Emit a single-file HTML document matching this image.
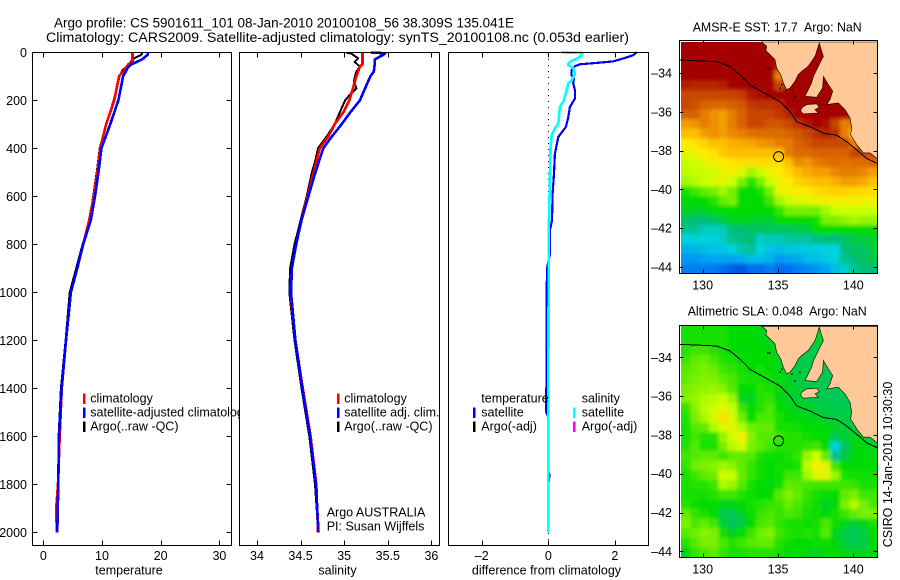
<!DOCTYPE html>
<html>
<head>
<meta charset="utf-8">
<title>Argo profile</title>
<style>
html,body{margin:0;padding:0;background:#fff;}
svg{display:block;}
text{font-family:"Liberation Sans",sans-serif;font-size:12.5px;fill:#000;white-space:pre;}
.title{font-size:14.2px;}
.maptitle{font-size:12.5px;}
.line{fill:none;stroke-linejoin:round;shape-rendering:crispEdges;}
.crisp{shape-rendering:crispEdges;}
</style>
</head>
<body>
<svg id="chart" xmlns="http://www.w3.org/2000/svg" width="900" height="580" viewBox="0 0 900 580">
  <defs>
    <filter id="soften" x="-5%" y="-5%" width="110%" height="110%"><feGaussianBlur stdDeviation="1.9"/></filter>
    <clipPath id="clip-m1"><rect x="681" y="42" width="196.5" height="231"/></clipPath>
    <clipPath id="clip-m2"><rect x="681" y="326" width="196.5" height="231"/></clipPath>
  </defs>
  <rect x="0" y="0" width="900" height="580" fill="#fff"/>
  <text class="title" x="54" y="27.5" textLength="460" lengthAdjust="spacingAndGlyphs">Argo profile: CS 5901611_101 08-Jan-2010 20100108_56 38.309S 135.041E</text>
  <text class="title" x="46" y="42" textLength="583" lengthAdjust="spacingAndGlyphs">Climatology: CARS2009. Satellite-adjusted climatology: synTS_20100108.nc (0.053d earlier)</text>
  <g id="p1"></g>
  <g id="p2"></g>
  <g id="p3"></g>
  <g id="m1"></g>
  <g id="m2"></g>
  <text class="maptitle" x="692.7" y="31.5" textLength="169" lengthAdjust="spacingAndGlyphs">AMSR-E SST: 17.7  Argo: NaN</text>
  <text class="maptitle" x="687.7" y="315.7" textLength="179" lengthAdjust="spacingAndGlyphs">Altimetric SLA: 0.048  Argo: NaN</text>
  <text transform="translate(892,547.3) rotate(-90)" x="0" y="0" textLength="165.6" lengthAdjust="spacingAndGlyphs">CSIRO 14-Jan-2010 10:30:30</text>
</svg>
<script>
// ---------- profile data ----------
var depthTicks = [0,200,400,600,800,1000,1200,1400,1600,1800,2000];
var tempTicks = [0,10,20,30];
var salTicks = [34,34.5,35,35.5,36];
var diffTicks = [-2,0,2];

var tempArgoDepth = [3,12,22,30,50,75,100,150,200,300,400,500,700,800,900,1000,1200,1400,1600,1800,1950];
var tempArgo = [16.9,16.6,15.7,15.2,14.6,13.5,13.0,12.5,12.0,10.7,9.6,9.1,7.9,6.7,5.6,4.5,3.8,3.0,2.6,2.5,2.3];
var tempClimDepth = [0,40,50,80,100,200,300,400,500,600,700,800,900,1000,1200,1400,1600,1800,1900,2000];
var tempClim = [15.2,15.2,14.5,13.6,12.9,12.1,10.7,9.7,9.2,8.6,7.8,6.8,5.8,4.7,3.87,3.15,2.8,2.5,2.2,2.3];
var tempSatDepth = [0,10,30,50,60,100,200,300,400,500,600,700,800,900,1000,1200,1400,1600,1800,2000];
var tempSat = [17.8,17.8,16.8,15.05,14.5,13.6,12.8,11.4,9.9,9.4,8.8,8.1,6.8,5.8,4.7,3.87,3.12,2.68,2.55,2.38];

var salArgoDepth = [2,5,15,25,40,60,80,120,150,175,200,250,300,350,400,450,500,600,700,800,900,1000,1200,1400,1600,1800,1960];
var salArgo = [35.03,35.08,35.12,35.16,35.12,35.18,35.14,35.11,35.14,35.07,35.01,34.95,34.89,34.80,34.70,34.67,34.63,34.57,34.5,34.43,34.38,34.37,34.43,34.51,34.6,34.665,34.695];
var salClimDepth = [0,50,60,100,150,200,250,300,350,400,500,600,700,800,900,1000,1200,1400,1600,1800,2000];
var salClim = [35.21,35.21,35.18,35.14,35.1,35.06,34.99,34.89,34.82,34.72,34.65,34.58,34.51,34.45,34.4,34.385,34.44,34.525,34.615,34.68,34.7];
var salSatDepth = [1,4,10,30,50,80,100,150,200,250,300,350,400,500,600,700,800,900,1000,1200,1400,1600,1800,2000];
var salSat = [35.31,35.47,35.45,35.35,35.35,35.34,35.3,35.24,35.18,35.07,34.97,34.86,34.76,34.67,34.59,34.51,34.45,34.4,34.39,34.44,34.52,34.61,34.675,34.705];

var diffTempDepth = [0,12,26,38,44,50,58,75,96,110,130,158,193,228,270,311,353,422,505,589,700,740,840,894,990,1500,1520,1750,1760,1800];
var diffTemp = [2.66,2.55,2.25,1.95,1.45,0.95,0.8,0.7,0.7,0.77,0.75,0.8,0.8,0.65,0.6,0.53,0.3,0.2,0.17,0.13,0.11,0.05,0.05,-0.03,-0.05,-0.06,0,0,0.04,0];
var diffSalDepth = [0,3,10,24,36,47,54,64,89,117,130,158,200,228,297,318,346,394,505,644,783,992,1500,2000];
var diffSal = [0.4,1.0,1.0,0.9,0.7,0.6,0.6,0.75,0.8,0.7,0.6,0.55,0.47,0.35,0.3,0.2,0.1,0.07,0.05,0.03,0.01,0.01,0,0];

// ---------- map data ----------
var mapLonTicks = [130,135,140];
var mapLatTicks = [-34,-36,-38,-40,-42,-44];
var argoLon = [135.04];
var argoLat = [-38.31];

// SST, degrees C, 0.62 deg lon x 0.5 deg lat
var sstGrid = [
[22,22,22,22,22,22,22,22,22,22,22,22,22,22,22,22,22,22,22,22,22],
[22,22,22,22,22,22,22,22,22,22,22,22,22,22,22,22,22,22,22,22,22],
[22,22,22,22,22,22,22,22,22,22,21.5,22,22,22,22,22,22,22,22,22,22],
[22,22,22,22,22,22,22,22,22,22,20,21.5,22,22,22,22,22,22,22,22,22],
[21.6,21.5,21.5,21.5,21.6,22,22,22,22,22,21,22,22,22,22,22,22,22,22,22,22],
[21,21,21,21,21,21,21.2,21.7,21.8,22,22,22,22,22,22,22,22,22,22,22,22],
[21,20.8,20.5,20.4,20.4,20.5,20.7,21.2,21.3,21.3,21.4,22,22,22,22,22,22,22,22,22,22],
[20.5,20.5,20,19.7,19.5,20,20.5,21,21,21,21.2,21.5,22,22,22,22,22,22,22,22,22],
[19.5,19.7,20,19.7,19.5,20,20.5,21,21,20.7,20.7,21,21.3,21.7,22,21.8,21,20,20,22,22],
[19,19,19.5,19.7,19.5,19.8,20,20.2,20.3,20.3,20.3,20.5,20.7,21,21.3,21.5,21.3,20,19,22,22],
[18,18.2,18.5,19,19,19.2,19.3,19.4,19.6,19.7,20,20,20.5,20.7,21,21,21,21,20,22,22],
[17.5,17.7,18,18.2,18.8,19,19,19,19,19,19,20,20.3,20.3,20.5,20.5,20.5,20.5,21,21,21],
[17,17.2,17.5,17.7,18,18.2,18.3,18.3,18.4,18.3,18.3,19,19.8,19.6,20,20.2,20.3,20.2,20.3,20.3,20.5],
[16.8,17,17,17.2,17.6,17.7,17.3,16.5,17,17.7,18,18.5,19,19.3,19.5,19.5,19.8,20,20,19.8,19.5],
[16.5,16.7,17,17.2,17.4,17,16,15.3,16,17,17.7,18,18.5,18.8,19,19,19.2,19.5,19.5,19.3,19],
[15.2,15.5,15.8,16,16.5,16,15,15,15.2,16,17.6,17.8,17.9,18,18.3,18.5,18.6,18.6,18.5,18.3,18.3],
[15,15,15,15.3,15.8,16,15,15,15,15.5,16.5,17,17.3,17.4,17.6,17.8,17.8,17.8,17.8,17.8,17.8],
[14.7,14.7,14.7,15,15,15,15,15,15,15,15.4,16,16,16,16,16.5,17,17,17,17,17],
[14.2,14,14,14.2,14.5,14.7,14.8,14.7,14.6,14.6,15,15,15,15,15.2,16,16,16.3,16.5,16.3,16.3],
[13.7,13.7,13.3,13.2,13.3,14,14,14.2,14.2,14.2,14.2,14.2,14.4,14.5,15,15,15,15,15,15,15],
[13,13,13,13,13.2,13.8,13.9,14,13.2,13.4,13.4,13.6,13.6,13.6,13.9,14,14,14.2,14.5,14.5,14.6],
[12.2,12.3,12.5,12.7,12.7,13,13.5,13.7,13,12.7,12.5,12.7,12.8,12.8,12.9,13,13,14,14.2,14.2,14.5],
[11.8,11.8,11.9,12,12,12,12.2,12.5,12.5,12.3,11.8,12,12.1,12.5,12.5,12.8,13,13.8,14,14.2,14.4],
[11.3,11.3,11.3,11.2,11,10.7,10.5,11,11,11.3,11,11,11.3,11.5,11.7,12,12.5,13.2,13.7,14,14]
];

// SLA, centimetres, same grid
var slaGrid = [
[2,2,2,2,2,0,0,0,-2,-2,-2,-3,-3,-3,-3,-3,-3,-3,-3,-3,-3],
[2,2,2,2,2,0,0,0,-1,-3,-3,-3,-3,-3,-3,-3,-3,-3,-3,-3,-3],
[3,5,5,3,2,0,-1,0,0,-2,-3,-5,-6,-6,-7,-7,-7,-7,-7,-7,-7],
[5,8,9,6,3,2,0,0,0,0,-3,-4,-6,-6,-7,-7,-7,-7,-7,-7,-7],
[7,9,10,9,5,4,2,0,2,0,-1,-3,-5,-6,-7,-7,-7,-7,-7,-7,-7],
[8,10,11,11,8,6,3,2,2,1,-1,-3,-5,-5,-6,-7,-7,-7,-7,-7,-7],
[10,12,13,14,12,7,0,0,3,2,0,-2,-4,-6,-6,-7,-7,-7,-7,-7,-7],
[11,14,17,18,20,14,-3,-3,3,4,-2,-3,-4,-5,-6,-6,-7,-7,-7,-7,-7],
[4,12,18,20,25,20,5,0,3,6,0,-2,-3,-3,-5,-6,-6,-6,-6,-6,-6],
[3,10,16,22,33,22,9,0,6,6,2,0,-1,-2,-3,-4,-5,-5,-5,-5,-5],
[2,7,8,17,22,25,17,9,8,8,2,2,1,0,0,-1,-3,-5,-5,-5,-5],
[2,5,3,3,14,22,28,12,7,7,5,3,3,1,0,0,-6,-4,-2,-3,-5],
[3,7,2,2,10,18,22,10,8,5,3,3,3,4,5,0,-20,-8,-2,-1,-3],
[5,7,8,8,5,8,8,7,2,1,1,2,4,14,20,8,-12,-5,-1,0,-1],
[4,9,10,12,15,12,8,4,1,0,1,1,2,18,28,24,5,0,0,0,0],
[2,5,8,9,21,20,8,4,1,0,1,5,5,15,24,24,14,2,1,1,1],
[2,3,3,5,17,14,7,2,0,-1,1,8,7,6,5,5,5,5,4,2,2],
[2,2,2,3,5,5,3,1,0,0,7,11,8,4,2,1,0,8,10,5,5],
[3,1,0,0,-2,-2,0,2,3,4,5,9,6,3,1,-3,-1,10,17,10,6],
[8,4,2,0,-6,-7,-3,1,4,6,4,6,5,2,1,-1,2,5,8,10,10],
[11,6,8,5,-4,-8,-5,0,6,7,4,2,2,1,2,6,1,-2,-4,-2,2],
[7,9,12,10,2,-3,0,5,9,11,5,3,2,3,2,7,-2,-6,-7,-5,0],
[3,7,10,10,6,3,5,7,8,8,3,1,0,0,1,1,-1,-5,-7,-6,-2],
[-2,4,6,8,4,2,2,3,3,3,2,0,0,-2,-3,-1,0,-2,-3,-3,-1]
];

var coastLon = [133.92,134.25,134.20,134.47,134.80,134.91,135.18,135.35,135.58,135.80,136.13,136.35,136.57,137.01,137.46,137.74,137.90,138.01,137.79,137.61,137.34,137.23,136.79,137.57,137.96,138.01,138.34,138.63,138.45,138.23,139.00,139.45,139.78,139.89,139.82,140.22,140.66,141.11,141.59,141.59];
var coastLat = [-32.40,-32.62,-32.85,-33.05,-33.31,-33.74,-34.08,-34.51,-34.86,-34.77,-34.43,-34.08,-33.91,-33.65,-33.14,-32.45,-32.88,-33.14,-33.48,-33.77,-34.19,-34.51,-35.20,-35.25,-34.77,-34.17,-34.60,-34.94,-35.37,-35.63,-35.54,-35.89,-36.32,-36.83,-37.18,-37.69,-38.12,-38.12,-38.42,-32.40];
var islandLon = [136.57,136.90,137.57,137.74,137.46,137.68,136.68,136.50];
var islandLat = [-35.80,-35.63,-35.59,-35.77,-35.89,-36.06,-36.11,-35.97];
var isletLon = [134.29,134.42,135.24,135.13,135.91,136.08,136.42];
var isletLat = [-33.74,-33.79,-34.60,-34.77,-34.86,-35.20,-34.77];
var isobathLon = [128.49,129.38,130.93,131.81,132.48,133.14,134.14,135.13,135.80,136.24,137.12,138.01,138.89,139.56,140.22,140.88,141.59];
var isobathLat = [-33.33,-33.36,-33.42,-33.67,-34.10,-34.62,-35.05,-35.48,-35.99,-36.51,-36.77,-37.11,-37.20,-37.54,-37.97,-38.40,-38.66];

// ---------- helpers ----------
var NS = 'http://www.w3.org/2000/svg';
function mk(tag, parent, attrs) {
  var el = document.createElementNS(NS, tag);
  for (var k in attrs) el.setAttribute(k, attrs[k]);
  parent.appendChild(el);
  return el;
}
function fmt(v) { return String(v).replace('-', '\u2013'); }
function depthY(d) { return 52.3 + 0.24 * d; }
function tempX(v) { return 43.3 + 5.87 * v; }
function salX(v) { return 257 + 87.2 * (v - 34); }
function diffX(v) { return 548.3 + 33.25 * v; }
function pts(xs, ys, fx, fy) {
  return xs.map(function (x, i) { return fx(x).toFixed(1) + ',' + fy(ys[i]).toFixed(1); }).join(' ');
}

function drawFrame(g, x0, x1, y0, y1) {
  var bg = mk('rect', g, {x: x0, y: y0, width: x1 - x0, height: y1 - y0, fill: '#fff', stroke: 'none'});
  
  
}
function drawBox(g, x0, x1, y0, y1) {
  var box = mk('rect', g, {x: x0, y: y0, width: x1 - x0, height: y1 - y0, fill: 'none', stroke: '#000', 'stroke-width': 1, 'class': 'crisp'});
  
  
}
function drawXTicks(g, ticks, fx, y0, y1, labelY) {
  ticks.forEach(function (t) {
    var x = Math.round(fx(t)) + 0.5;
    var top = mk('line', g, {x1: x, x2: x, y1: y0, y2: y0 + 5, stroke: '#000', 'class': 'crisp'});
    
    
    var bot = mk('line', g, {x1: x, x2: x, y1: y1, y2: y1 - 5, stroke: '#000', 'class': 'crisp'});
    
    
    var lab = mk('text', g, {x: fx(t), y: labelY, 'text-anchor': 'middle'});
    lab.textContent = fmt(t);
    
    
  });
}
function drawYTicks(g, ticks, fy, x0, x1, labelX) {
  ticks.forEach(function (t) {
    var y = Math.round(fy(t)) + 0.5;
    var l = mk('line', g, {x1: x0 , x2: x0 + 5, y1: y, y2: y, stroke: '#000', 'class': 'crisp'});
    
    
    var r = mk('line', g, {x1: x1 - 5, x2: x1, y1: y, y2: y, stroke: '#000', 'class': 'crisp'});
    
    
    var lab = mk('text', g, {x: labelX, y: fy(t) + 4.5, 'text-anchor': 'end'});
    lab.textContent = fmt(t);
    
    
  });
}
function drawSeries(g, vals, depths, fx, color, width) {
  var p = mk('polyline', g, {points: pts(vals, depths, fx, depthY), stroke: color, 'stroke-width': width, 'class': 'line'});
  
  
}
function drawLegend(g, swatchX, textX, items) {
  items.forEach(function (it) {
    if (it.color) {
      var s = mk('rect', g, {x: swatchX - 1, y: it.y - 9, width: 2.6, height: 10.5, fill: it.color, 'class': 'crisp'});
      
      
    }
    var t = mk('text', g, {x: textX, y: it.y});
    t.textContent = it.label;
    
    
  });
}
function plainText(g, x, y, s, anchor) {
  var t = mk('text', g, {x: x, y: y, 'text-anchor': anchor || 'start'});
  t.textContent = s;
  
  
}

// ---------- temperature panel ----------
var p1 = document.getElementById('p1');
drawFrame(p1, 32.5, 231.5, 52.5, 545.5);
drawSeries(p1, tempArgo, tempArgoDepth, tempX, '#000', 2);
drawSeries(p1, tempClim, tempClimDepth, tempX, '#f00', 2.6);
drawSeries(p1, tempSat, tempSatDepth, tempX, '#00f', 2.6);
drawLegend(p1, 84, 90.3, [
  {y: 402.3, color: '#f00', label: 'climatology'},
  {y: 416.7, color: '#00f', label: 'satellite-adjusted climatology'},
  {y: 430.7, color: '#000', label: 'Argo(..raw -QC)'}
]);
drawXTicks(p1, tempTicks, tempX, 52.5, 545.5, 560);
drawYTicks(p1, depthTicks, depthY, 32.5, 231.5, 27);
drawBox(p1, 32.5, 231.5, 52.5, 545.5);
plainText(p1, 129, 574.5, 'temperature', 'middle');

// ---------- salinity panel ----------
var p2 = document.getElementById('p2');
drawFrame(p2, 239.5, 439.5, 52.5, 545.5);
drawSeries(p2, salArgo, salArgoDepth, salX, '#000', 2);
drawSeries(p2, salClim, salClimDepth, salX, '#f00', 2.6);
drawSeries(p2, salSat, salSatDepth, salX, '#00f', 2.6);
drawLegend(p2, 338, 344.3, [
  {y: 402.3, color: '#f00', label: 'climatology'},
  {y: 416.7, color: '#00f', label: 'satellite adj. clim.'},
  {y: 430.7, color: '#000', label: 'Argo(..raw -QC)'}
]);
plainText(p2, 326.7, 516.7, 'Argo AUSTRALIA');
plainText(p2, 326.7, 530.7, 'PI: Susan Wijffels');
drawXTicks(p2, salTicks, salX, 52.5, 545.5, 560);
drawBox(p2, 239.5, 439.5, 52.5, 545.5);
plainText(p2, 337.5, 574.5, 'salinity', 'middle');

// ---------- difference panel ----------
var p3 = document.getElementById('p3');
drawFrame(p3, 448.5, 648.5, 52.5, 545.5);
var zero = mk('line', p3, {x1: diffX(0), x2: diffX(0), y1: 53, y2: 545, stroke: '#000', 'stroke-width': 1, 'stroke-dasharray': '1 5', 'class': 'crisp'});


drawSeries(p3, diffTemp, diffTempDepth, diffX, '#00f', 2.2);
drawSeries(p3, diffSal, diffSalDepth, diffX, '#0ff', 2.6);
drawLegend(p3, 474, 481.3, [
  {y: 402.3, label: 'temperature'},
  {y: 416.7, color: '#00f', label: 'satellite'},
  {y: 430.7, color: '#000', label: 'Argo(-adj)'}
]);
drawLegend(p3, 574, 581.7, [
  {y: 402.3, label: 'salinity'},
  {y: 416.7, color: '#0ff', label: 'satellite'},
  {y: 430.7, color: '#f0f', label: 'Argo(-adj)'}
]);
drawXTicks(p3, diffTicks, diffX, 52.5, 545.5, 560);
drawBox(p3, 448.5, 648.5, 52.5, 545.5);
plainText(p3, 546.5, 574.5, 'difference from climatology', 'middle');

// ---------- maps ----------
var palette = [[0,60,200],[0,110,240],[0,165,240],[0,210,220],[0,190,120],[0,220,0],[120,240,0],[200,255,0],[255,235,0],[255,190,0],[230,125,0],[200,70,0],[165,0,0]];
function colorAt(idx) {
  var i = Math.max(0, Math.min(11.999, idx));
  var a = Math.floor(i), f = i - a;
  var c = palette[a].map(function (v, k) { return Math.round(v + (palette[a + 1][k] - v) * f); });
  return 'rgb(' + c.join(',') + ')';
}
function sstColor(v) { return colorAt(v - 10); }
function slaColor(v) { return colorAt(5 + v / 10); }
function lonX(lon) { return 778 + (lon - 135) * 15.07; }

function drawCells(parent, grid, colorFn, imgTop, imgBottom) {
  var x0 = 681, x1 = 877.3;
  var cw = (x1 - x0) / grid[0].length, ch = (imgBottom - imgTop) / grid.length;
  grid.forEach(function (row, r) {
    row.forEach(function (v, c) {
      var cell = mk('rect', parent, {
        x: (x0 + c * cw).toFixed(2), y: (imgTop + r * ch).toFixed(2),
        width: (cw + 0.3).toFixed(2), height: (ch + 0.3).toFixed(2),
        fill: colorFn(v), 'class': 'crisp'
      });
      
      
    });
  });
}

function drawMap(g, clipId, grid, colorFn, yAt34, frameTop, frameBottom, imgTop, imgBottom, labelY) {
  function latY(lat) { return yAt34 - (lat + 34) * 19.4; }
  var bg = mk('rect', g, {x: 679.5, y: frameTop, width: 198, height: frameBottom - frameTop, fill: '#fff'});
  
  
  var clipGroup = mk('g', g, {'clip-path': 'url(#' + clipId + ')'});
  
  
  var baseLayer = mk('g', clipGroup, {});
  
  
  drawCells(baseLayer, grid, colorFn, imgTop, imgBottom);
  var softLayer = mk('g', clipGroup, {filter: 'url(#soften)'});
  
  
  drawCells(softLayer, grid, colorFn, imgTop, imgBottom);
  var land = mk('polygon', g, {points: pts(coastLon, coastLat, lonX, latY), fill: '#ffc896', stroke: '#000', 'stroke-width': 0.6});
  
  
  var island = mk('polygon', g, {points: pts(islandLon, islandLat, lonX, latY), fill: '#ffc896', stroke: '#000', 'stroke-width': 0.6});
  
  
  isletLon.forEach(function (lon, i) {
    var dot = mk('rect', g, {x: lonX(lon) - 0.5, y: latY(isletLat[i]) - 0.5, width: 1.5, height: 1.5, fill: '#000', 'class': 'crisp'});
    
    
  });
  var iso = mk('polyline', g, {points: pts(isobathLon, isobathLat, lonX, latY), fill: 'none', stroke: '#000', 'stroke-width': 1, 'class': 'crisp'});
  
  
  var circ = mk('circle', g, {cx: lonX(argoLon[0]), cy: latY(argoLat[0]), r: 5, fill: 'none', stroke: '#000', 'stroke-width': 1});
  
  
  mapLonTicks.forEach(function (t) {
    var x = Math.round(lonX(t)) + 0.5;
    var a = mk('line', g, {x1: x, x2: x, y1: frameTop, y2: frameTop + 4, stroke: '#000', 'class': 'crisp'});
    
    
    var b = mk('line', g, {x1: x, x2: x, y1: frameBottom, y2: frameBottom - 4, stroke: '#000', 'class': 'crisp'});
    
    
    var lab = mk('text', g, {x: lonX(t), y: labelY, 'text-anchor': 'middle'});
    lab.textContent = fmt(t);
    
    
  });
  mapLatTicks.forEach(function (t) {
    var y = Math.round(latY(t)) + 0.5;
    var a = mk('line', g, {x1: 679.5, x2: 683.5, y1: y, y2: y, stroke: '#000', 'class': 'crisp'});
    
    
    var b = mk('line', g, {x1: 873.5, x2: 877.5, y1: y, y2: y, stroke: '#000', 'class': 'crisp'});
    
    
    var lab = mk('text', g, {x: 672, y: latY(t) + 4.5, 'text-anchor': 'end'});
    lab.textContent = fmt(t);
    
    
  });
  var box = mk('rect', g, {x: 679.5, y: frameTop, width: 198, height: frameBottom - frameTop, fill: 'none', stroke: '#000', 'class': 'crisp'});
  
  
}
drawMap(document.getElementById('m1'), 'clip-m1', sstGrid, sstColor, 73, 40.5, 273.5, 42, 273, 289.5);
drawMap(document.getElementById('m2'), 'clip-m2', slaGrid, slaColor, 357.3, 325.5, 557.5, 326, 557, 573.5);
</script>
</body>
</html>
